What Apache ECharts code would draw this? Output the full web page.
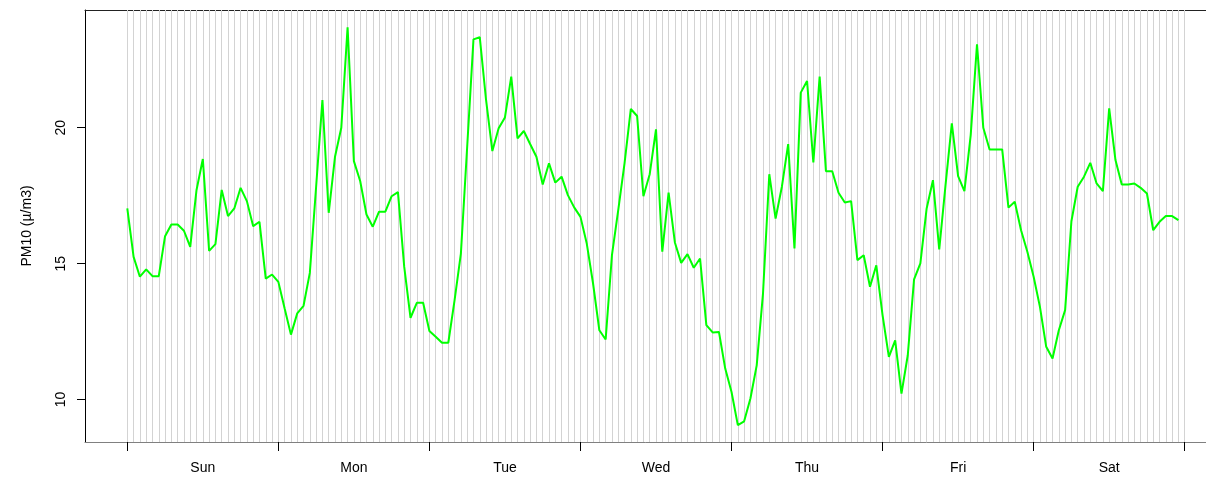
<!DOCTYPE html>
<html>
<head>
<meta charset="utf-8">
<script src="https://cdn.jsdelivr.net/npm/echarts@6/dist/echarts.min.js"></script>
<style>
html,body{margin:0;padding:0;background:#fff;}
#chart{width:1206px;height:478px;}
</style>
</head>
<body>
<div id="chart"></div>
<script>
// Hourly PM10 over one week (hour 0 = Sunday 00:00)
const pm10 = [
  17.03, 15.25, 14.52, 14.79, 14.54, 14.54, 16.01, 16.44, 16.44, 16.21, 15.62, 17.71,
  18.85, 15.47, 15.72, 17.71, 16.75, 17.03, 17.79, 17.30, 16.38, 16.54, 14.45, 14.60,
  14.33, 13.35, 12.39, 13.17, 13.45, 14.66, 17.83, 21.02, 16.87, 18.93, 20.00, 23.69,
  18.77, 18.04, 16.81, 16.36, 16.91, 16.91, 17.48, 17.63, 14.88, 13.01, 13.56, 13.56,
  12.52, 12.31, 12.09, 12.09, 13.66, 15.37, 19.30, 23.25, 23.33, 21.02, 19.14, 19.98,
  20.38, 21.88, 19.61, 19.88, 19.40, 18.93, 17.91, 18.69, 17.98, 18.20, 17.52, 17.07,
  16.72, 15.74, 14.27, 12.55, 12.21, 15.31, 16.97, 18.69, 20.69, 20.43, 17.48, 18.29,
  19.94, 15.44, 17.61, 15.78, 15.03, 15.35, 14.85, 15.19, 12.74, 12.47, 12.49, 11.14,
  10.28, 9.06, 9.20, 10.04, 11.26, 13.90, 18.29, 16.66, 17.83, 19.40, 15.56, 21.29,
  21.72, 18.72, 21.88, 18.40, 18.40, 17.61, 17.25, 17.30, 15.13, 15.31, 14.15, 14.94,
  13.10, 11.57, 12.18, 10.22, 11.63, 14.42, 15.01, 17.03, 18.07, 15.52, 17.89, 20.16,
  18.22, 17.67, 19.73, 23.07, 20.00, 19.20, 19.20, 19.20, 17.06, 17.28, 16.23, 15.44,
  14.52, 13.41, 11.94, 11.51, 12.55, 13.29, 16.56, 17.83, 18.20, 18.71, 17.95, 17.67,
  20.71, 18.81, 17.91, 17.91, 17.95, 17.79, 17.58, 16.23, 16.54, 16.75, 16.75, 16.60
];
const dayNames = ['Sun', 'Mon', 'Tue', 'Wed', 'Thu', 'Fri', 'Sat'];
const dayTicks = [0, 24, 48, 72, 96, 120, 144, 168];
const dayLabelPos = [12, 36, 60, 84, 108, 132, 156];
const yTicks = [10, 15, 20];
const hourLines = Array.from({length: 169}, (_, i) => i);

const seriesData = pm10.map((v, i) => [i, v]);
const font = 'Liberation Sans, Arial, sans-serif';

const chart = echarts.init(document.getElementById('chart'), null, {renderer: 'canvas'});
chart.setOption({
  animation: false,
  backgroundColor: '#ffffff',
  grid: {left: 85, right: -21, top: 10, bottom: 36, containLabel: false, outerBoundsMode: 'none'},
  xAxis: [{
    type: 'value',
    min: -6.72,
    max: 174.72,
    axisLine: {show: true, onZero: false, lineStyle: {color: '#808080', width: 1}},
    axisTick: {show: true, length: 9, customValues: dayTicks, lineStyle: {color: '#000', width: 1}},
    axisLabel: {
      show: true, customValues: dayLabelPos, margin: 19,
      color: '#000', fontSize: 14, fontFamily: font,
      formatter: v => dayNames[Math.round((v - 12) / 24)]
    },
    splitLine: {show: false}
  }, {
    type: 'value',
    position: 'top',
    min: -6.72,
    max: 174.72,
    axisLine: {show: true, onZero: false, lineStyle: {color: '#222', width: 1}},
    axisTick: {show: false},
    axisLabel: {show: false},
    splitLine: {show: false}
  }],
  yAxis: {
    type: 'value',
    min: 8.44,
    max: 24.33,
    name: 'PM10 (µ/m3)',
    nameLocation: 'middle',
    nameRotate: 90,
    nameGap: 51,
    nameTextStyle: {color: '#000', fontSize: 14, fontFamily: font},
    axisLine: {show: true, onZero: false, lineStyle: {color: '#000', width: 1}},
    axisTick: {show: true, length: 8, customValues: yTicks, lineStyle: {color: '#000'}},
    axisLabel: {
      show: true, customValues: yTicks, rotate: 90, margin: 17,
      color: '#000', fontSize: 14, fontFamily: font
    },
    splitLine: {show: false}
  },
  series: [{
    type: 'line',
    data: [],
    z: 1,
    silent: true,
    markLine: {
      z: 1,
      silent: true,
      symbol: 'none',
      animation: false,
      label: {show: false},
      lineStyle: {color: '#d3d3d3', width: 1, type: 'solid'},
      emphasis: {disabled: true},
      data: hourLines.map(h => ({xAxis: h}))
    }
  }, {
    type: 'line',
    data: seriesData,
    z: 10,
    showSymbol: false,
    symbol: 'none',
    lineStyle: {color: '#00ff00', width: 2},
    itemStyle: {color: '#00ff00'}
  }]
});
</script>
</body>
</html>
